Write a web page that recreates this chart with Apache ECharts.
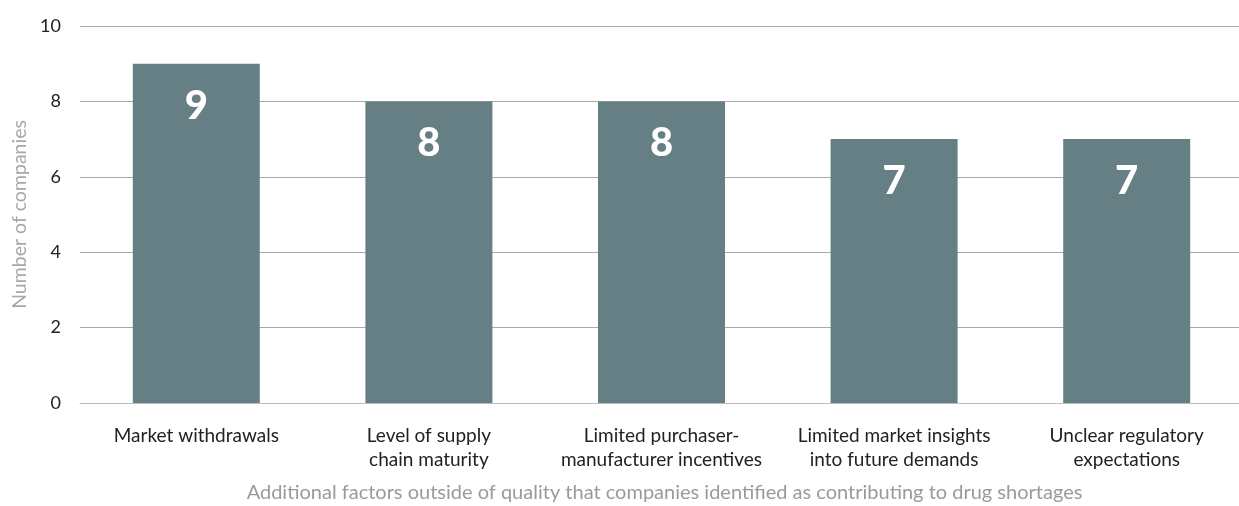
<!DOCTYPE html>
<html>
<head>
<meta charset="utf-8">
<script src="https://cdn.jsdelivr.net/npm/echarts@6/dist/echarts.min.js"></script>
<style>
  html, body { margin: 0; padding: 0; background: #fff; }
  #chart { width: 1239px; height: 506px; }
</style>
</head>
<body>
<div id="chart"></div>
<script>
const categories = [
  'Market withdrawals',
  'Level of supply\nchain maturity',
  'Limited purchaser-\nmanufacturer incentives',
  'Limited market insights\ninto future demands',
  'Unclear regulatory\nexpectations'
];
const companyCounts = [9, 8, 8, 7, 7];
const yTicks = [0, 2, 4, 6, 8, 10];

const chart = echarts.init(document.getElementById('chart'));
chart.setOption({
  animation: false,
  textStyle: { fontFamily: 'Lato' },
  grid: { left: 80, right: -4, top: 26, bottom: 103, containLabel: false, outerBoundsMode: 'none' },
  xAxis: {
    type: 'category',
    data: categories,
    name: 'Additional factors outside of quality that companies identified as contributing to drug shortages',
    nameLocation: 'middle',
    nameGap: 80,
    nameTextStyle: { color: '#9a9a9a', fontSize: 20, fontFamily: 'Lato', padding: [0, 0, 0, 6] },
    axisLine: { show: true, lineStyle: { color: '#bdbdbd', width: 1 } },
    axisTick: { show: false },
    axisLabel: { color: '#222', fontSize: 19, lineHeight: 24, margin: 21, interval: 0, fontFamily: 'Lato' }
  },
  yAxis: {
    type: 'value',
    min: yTicks[0],
    max: yTicks[yTicks.length - 1],
    interval: 2,
    name: 'Number of companies',
    nameLocation: 'middle',
    nameGap: 50,
    nameTextStyle: { color: '#a8a8a8', fontSize: 19.5, fontFamily: 'Lato' },
    axisLine: { show: false },
    axisTick: { show: false },
    axisLabel: { color: '#222', fontSize: 18, margin: 19, fontFamily: 'Lato' },
    splitLine: { lineStyle: { color: '#a9a9a9', width: 1 } }
  },
  series: [{
    type: 'bar',
    data: companyCounts,
    barWidth: '54.6%',
    itemStyle: { color: '#667f85' },
    label: {
      show: true,
      position: 'insideTop',
      distance: 22,
      color: '#fff',
      fontSize: 40,
      fontWeight: 900,
      fontFamily: 'Lato'
    }
  }]
});
</script>
</body>
</html>
